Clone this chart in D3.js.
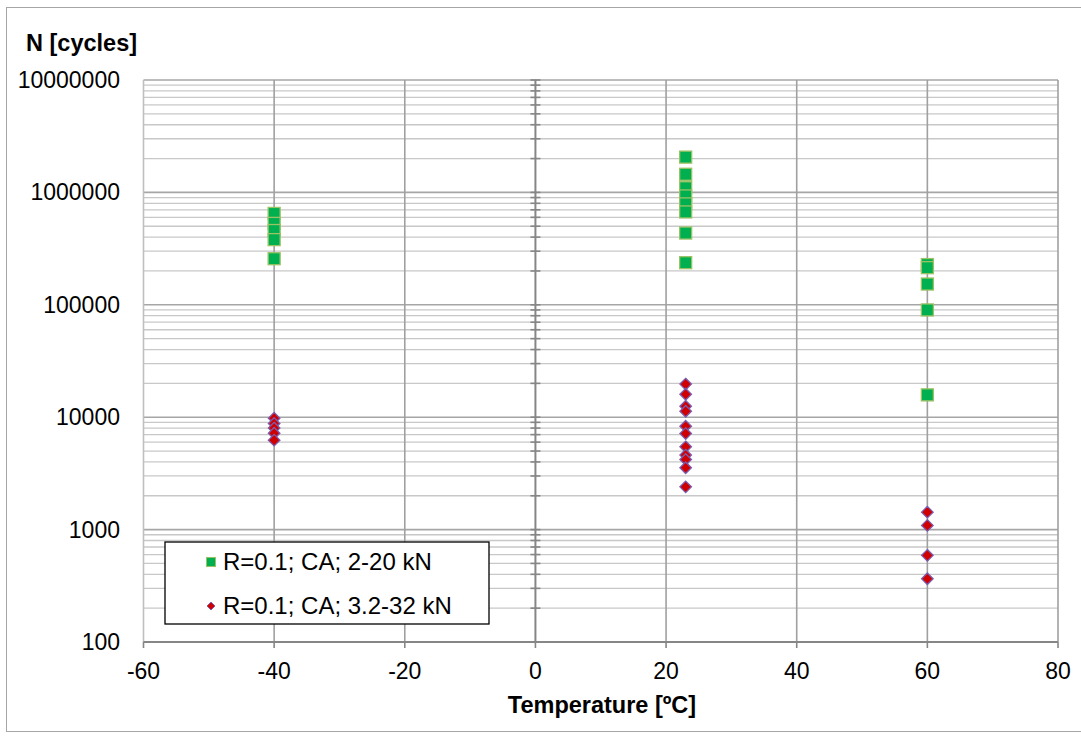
<!DOCTYPE html>
<html>
<head>
<meta charset="utf-8">
<script src="https://cdn.jsdelivr.net/npm/d3@7"></script>
<style>
  body { margin: 0; background: #fff; }
  svg text { font-family: "Liberation Sans", Arial, sans-serif; fill: #000; }
</style>
</head>
<body>
<svg id="drawing" width="1081" height="740"></svg>
<script>
// series: temperature (ºC) and cycles to failure
const greenT = [-40, -40, -40, -40, -40,
                23, 23, 23, 23, 23, 23, 23, 23,
                60, 60, 60, 60, 60];
const greenN = [650000, 530000, 458000, 380000, 257000,
                2060000, 1450000, 1100000, 930000, 790000, 670000, 435000, 237000,
                228000, 214000, 153000, 90000, 15800];

const redT = [-40, -40, -40, -40, -40,
              23, 23, 23, 23, 23, 23, 23, 23, 23, 23, 23,
              60, 60, 60, 60];
const redN = [9800, 8800, 8000, 7200, 6250,
              19700, 16000, 12500, 11300, 8300, 7150, 5450, 4600, 4200, 3550, 2400,
              1430, 1090, 590, 365];

const xTicks = [-60, -40, -20, 0, 20, 40, 60, 80];
const yTicks = [100, 1000, 10000, 100000, 1000000, 10000000];
const legendLabels = ["R=0.1; CA; 2-20 kN", "R=0.1; CA; 3.2-32 kN"];

const svg = d3.select("svg#drawing");

const x = d3.scaleLinear().domain([-60, 80]).range([143.5, 1058]);
const y = d3.scaleLog().domain([100, 1e7]).range([642, 80]);

// outer chart border
svg.append("rect")
   .attr("x", 6.5).attr("y", 7.5).attr("width", 1080).attr("height", 724)
   .attr("fill", "none").attr("stroke", "#a6a6a6").attr("stroke-width", 1);

// minor horizontal gridlines
const minor = [];
for (let d = 100; d < 1e7; d *= 10) {
   for (let k = 2; k <= 9; k++) minor.push(d * k);
}
svg.append("g")
   .selectAll("line")
   .data(minor)
   .join("line")
   .attr("x1", x(-60)).attr("x2", x(80))
   .attr("y1", d => y(d)).attr("y2", d => y(d))
   .attr("stroke", "#c8c8c8").attr("stroke-width", 1.3);

// major horizontal gridlines
svg.append("g")
   .selectAll("line")
   .data(yTicks)
   .join("line")
   .attr("x1", x(-60)).attr("x2", x(80))
   .attr("y1", d => y(d)).attr("y2", d => y(d))
   .attr("stroke", "#a6a6a6").attr("stroke-width", 1.6);

// vertical gridlines
svg.append("g")
   .selectAll("line")
   .data(xTicks.filter(d => d !== 0))
   .join("line")
   .attr("x1", d => x(d)).attr("x2", d => x(d))
   .attr("y1", y(1e7)).attr("y2", y(100))
   .attr("stroke", d => d === -60 ? "#bfbfbf" : "#a0a0a0").attr("stroke-width", 1.6);

// y axis at x = 0 with tick marks
const yAxis = svg.append("g");
yAxis.append("line")
   .attr("x1", x(0)).attr("x2", x(0))
   .attr("y1", y(1e7)).attr("y2", y(100))
   .attr("stroke", "#868686").attr("stroke-width", 2);
yAxis.selectAll("line.tk")
   .data(minor.concat(yTicks))
   .join("line")
   .attr("class", "tk")
   .attr("x1", x(0) - 5).attr("x2", x(0) + 5)
   .attr("y1", d => y(d)).attr("y2", d => y(d))
   .attr("stroke", "#868686").attr("stroke-width", 1.6);

// x axis at bottom
const xAxis = svg.append("g");
xAxis.append("line")
   .attr("x1", x(-60)).attr("x2", x(80))
   .attr("y1", y(100)).attr("y2", y(100))
   .attr("stroke", "#868686").attr("stroke-width", 2);
xAxis.selectAll("line.tk")
   .data(xTicks)
   .join("line")
   .attr("class", "tk")
   .attr("x1", d => x(d)).attr("x2", d => x(d))
   .attr("y1", y(100)).attr("y2", y(100) + 6)
   .attr("stroke", "#868686").attr("stroke-width", 1.6);

// tick labels
svg.append("g")
   .selectAll("text")
   .data(xTicks)
   .join("text")
   .attr("x", d => x(d)).attr("y", 679)
   .attr("text-anchor", "middle")
   .attr("font-size", 23)
   .text(d => d);

svg.append("g")
   .selectAll("text")
   .data(yTicks)
   .join("text")
   .attr("x", 120).attr("y", d => y(d) + 8)
   .attr("text-anchor", "end")
   .attr("font-size", 23)
   .text(d => d);

// axis titles
svg.append("text")
   .attr("x", 26).attr("y", 51)
   .attr("font-size", 23.5).attr("font-weight", "bold")
   .text("N [cycles]");
svg.append("text")
   .attr("x", 602).attr("y", 713)
   .attr("text-anchor", "middle")
   .attr("font-size", 23.5).attr("font-weight", "bold")
   .text("Temperature [ºC]");

// markers
const diamond = d3.symbol().type(d3.symbolDiamond2).size(85);

svg.append("g")
   .selectAll("rect")
   .data(greenT.map((t, i) => ({ t, n: greenN[i] })))
   .join("rect")
   .attr("x", d => x(d.t) - 6).attr("y", d => y(d.n) - 6)
   .attr("width", 12).attr("height", 12)
   .attr("fill", "#00b050").attr("stroke", "#9bc264").attr("stroke-width", 1.3);

svg.append("g")
   .selectAll("path")
   .data(redT.map((t, i) => ({ t, n: redN[i] })))
   .join("path")
   .attr("d", diamond)
   .attr("transform", d => `translate(${x(d.t)},${y(d.n)})`)
   .attr("fill", "#d00000").attr("stroke", "#7a5cb0").attr("stroke-width", 1.3);

// legend
const legend = svg.append("g");
legend.append("rect")
   .attr("x", 165).attr("y", 542).attr("width", 324).attr("height", 82)
   .attr("fill", "#fff").attr("stroke", "#000").attr("stroke-width", 1.3);
legend.append("rect")
   .attr("x", 206.5).attr("y", 557.5).attr("width", 9).attr("height", 9)
   .attr("fill", "#00b050").attr("stroke", "#9bc264").attr("stroke-width", 1);
legend.append("path")
   .attr("d", d3.symbol().type(d3.symbolDiamond2).size(40))
   .attr("transform", "translate(211,606)")
   .attr("fill", "#d00000").attr("stroke", "#7a5cb0").attr("stroke-width", 1);
legend.selectAll("text")
   .data(legendLabels)
   .join("text")
   .attr("x", 223).attr("y", (d, i) => 570 + i * 44)
   .attr("font-size", 24)
   .text(d => d);
</script>
</body>
</html>
